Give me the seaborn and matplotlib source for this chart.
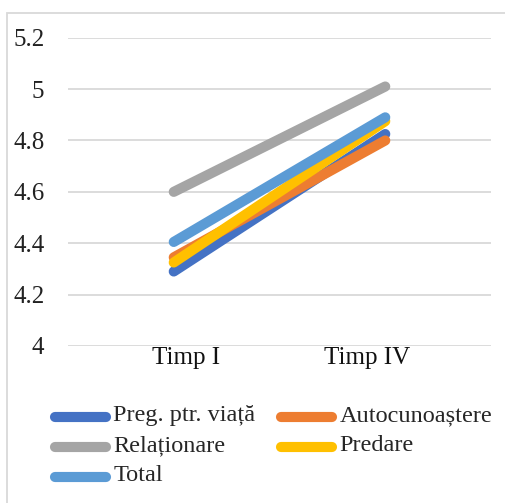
import matplotlib
matplotlib.use("Agg")
import matplotlib.pyplot as plt
import matplotlib.transforms as mtransforms
from matplotlib.lines import Line2D
from matplotlib.patches import Rectangle
import seaborn as sns
import pandas as pd

categories = ["Timp I", "Timp IV"]
series_names = ["Preg. ptr. viață", "Autocunoaștere", "Relaționare", "Predare", "Total"]
preg = [4.29, 4.825]
auto = [4.345, 4.80]
relat = [4.60, 5.01]
predare = [4.325, 4.875]
total = [4.405, 4.89]
colors = ["#4472C4", "#ED7D31", "#A5A5A5", "#FFC000", "#5B9BD5"]
yticks = [4, 4.2, 4.4, 4.6, 4.8, 5, 5.2]
ytick_labels = ["4", "4.2", "4.4", "4.6", "4.8", "5", "5.2"]

values = [preg, auto, relat, predare, total]
rows = []
for name, vals in zip(series_names, values):
    for c, v in zip(categories, vals):
        rows.append({"Timp": c, "Valoare": v, "Serie": name})
df = pd.DataFrame(rows)

sns.set_theme(style="white")
plt.rcParams["font.family"] = ["Liberation Serif", "DejaVu Serif"]

W, H = 506, 503
fig = plt.figure(figsize=(W / 100, H / 100), dpi=100)
ax = fig.add_axes([68 / W, 1 - 346 / H, (491 - 68) / W, (346 - 37.7) / H])

# outer frame
fig.patches.append(Rectangle((7 / W, -0.1), 1.2, 1 - 13 / H + 0.1, transform=fig.transFigure,
                             fill=False, edgecolor="#D9D9D9", linewidth=1.3, zorder=0))

palette = dict(zip(series_names, colors))
sns.lineplot(data=df, x="Timp", y="Valoare", hue="Serie", hue_order=series_names,
             palette=palette, linewidth=7.3, solid_capstyle="round", legend=False,
             sort=False, ax=ax)

ax.set_xlim(-0.5, 1.5)
ax.set_ylim(4, 5.2)
ax.set_yticks(yticks)
ax.set_yticklabels(ytick_labels)
ax.set_xticks([0, 1])
ax.set_xticklabels(categories)
ax.yaxis.grid(True, color="#D9D9D9", linewidth=1.3)
ax.set_axisbelow(True)
for s in ax.spines.values():
    s.set_visible(False)
ax.tick_params(axis="y", length=0, pad=17, labelsize=18, labelcolor="#222222")
ax.tick_params(axis="x", length=0, pad=1, labelsize=18, labelcolor="#111111")
ax.set_xlabel("")
ax.set_ylabel("")

# shift category labels as in the reference
offsets = [12, -18]
for lab, dx in zip(ax.get_xticklabels(), offsets):
    lab.set_transform(lab.get_transform() + mtransforms.ScaledTranslation(dx / 100, 0, fig.dpi_scale_trans))

order = [0, 2, 4, 1, 3]
handles = [Line2D([0], [0], color=colors[i], linewidth=7.3, solid_capstyle="round") for i in order]
labels = [series_names[i] for i in order]
leg = fig.legend(handles, labels, loc="upper left", bbox_to_anchor=(55 / W, 1 - 408 / H),
                 ncol=2, frameon=False, fontsize=17.5, handlelength=2.1, handletextpad=0.3,
                 columnspacing=1.05, labelspacing=0.33, borderaxespad=0, borderpad=0)
fig.canvas.draw()
for t in leg.get_texts():
    t.set_transform(t.get_transform() + mtransforms.ScaledTranslation(0, 4 / 100, fig.dpi_scale_trans))

fig.savefig("out.png", dpi=100)
